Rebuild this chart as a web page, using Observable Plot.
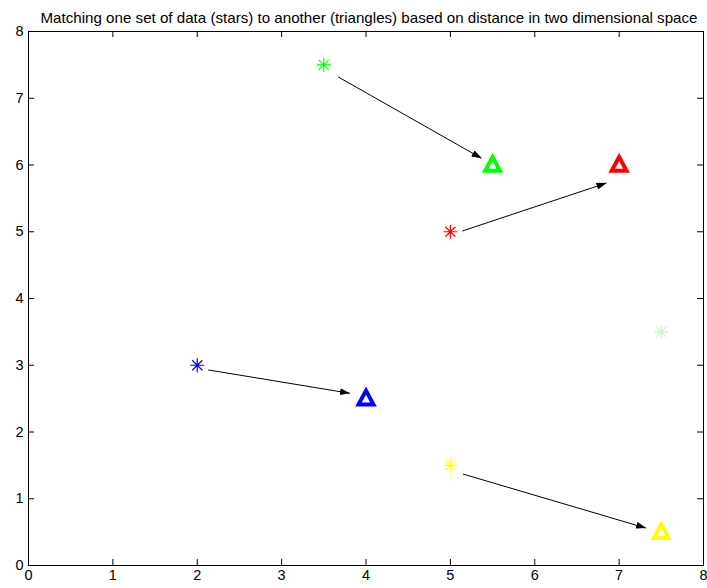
<!DOCTYPE html>
<html>
<head>
<meta charset="utf-8">
<script src="https://cdn.jsdelivr.net/npm/d3@7"></script>
<script src="https://cdn.jsdelivr.net/npm/@observablehq/plot@0.6"></script>
<style>
  html, body { margin: 0; padding: 0; background: #ffffff; }
  #chart { width: 707px; height: 588px; }
</style>
</head>
<body>
<div id="chart"></div>
<script>
// Stars: the points to be matched
const starX = [3.5, 5, 2, 5, 7.5];
const starY = [7.5, 5, 3, 1.5, 3.5];
const starColor = ["#00ff00", "#ff0000", "#0000ff", "#ffff00", "#c6f6c6"];

// Triangles: the targets
const triX = [5.5, 7, 4, 7.5];
const triY = [6, 6, 2.5, 0.5];
const triColor = ["#00ff00", "#ff0000", "#0000ff", "#ffff00"];

// Match arrows (star -> triangle), start and end points
const arrowX1 = [3.67, 5.14, 2.13, 5.15];
const arrowY1 = [7.32, 5.01, 2.93, 1.37];
const arrowX2 = [5.37, 6.85, 3.81, 7.32];
const arrowY2 = [6.10, 5.73, 2.58, 0.56];

const xTicks = [0, 1, 2, 3, 4, 5, 6, 7, 8];
const yTicks = [0, 1, 2, 3, 4, 5, 6, 7, 8];
const titleText = "Matching one set of data (stars) to another (triangles) based on distance in two dimensional space";

const stars = starX.map((x, i) => ({x, y: starY[i], c: starColor[i]}));
const tris = triX.map((x, i) => ({x, y: triY[i], c: triColor[i]}));
const arrows = arrowX1.map((x1, i) => ({x1, y1: arrowY1[i], x2: arrowX2[i], y2: arrowY2[i]}));

// Eight-armed asterisk marker
const asterisk8 = {
  draw(ctx, size) {
    const r = Math.sqrt(size / Math.PI);
    const d = r * 0.72;
    ctx.moveTo(-r, 0); ctx.lineTo(r, 0);
    ctx.moveTo(0, -r); ctx.lineTo(0, r);
    ctx.moveTo(-d, -d); ctx.lineTo(d, d);
    ctx.moveTo(-d, d); ctx.lineTo(d, -d);
  }
};

// Upward triangle marker
const triangleUp = {
  draw(ctx, size) {
    const r = Math.sqrt(size / Math.PI);
    ctx.moveTo(0, -r);
    ctx.lineTo(r * 0.93, r * 0.72);
    ctx.lineTo(-r * 0.93, r * 0.72);
    ctx.closePath();
  }
};

const W = 707, H = 588;
const mTop = 31, mBottom = 23, mLeft = 28, mRight = 4;
const frameW = W - mLeft - mRight, frameH = H - mTop - mBottom;
const tickLen = 6;

const plot = Plot.plot({
  width: W,
  height: H,
  marginTop: mTop,
  marginBottom: mBottom,
  marginLeft: mLeft,
  marginRight: mRight,
  style: {fontFamily: "'Liberation Sans', Arial, Helvetica, sans-serif", fontSize: "14px", background: "#ffffff", color: "#000000"},
  x: {domain: [0, 8]},
  y: {domain: [0, 8]},
  marks: [
    // inward ticks on all four sides
    Plot.tickX(xTicks, {x: d => d, stroke: "#000", insetTop: frameH - tickLen}),
    Plot.tickX(xTicks, {x: d => d, stroke: "#000", insetBottom: frameH - tickLen}),
    Plot.tickY(yTicks, {y: d => d, stroke: "#000", insetRight: frameW - tickLen}),
    Plot.tickY(yTicks, {y: d => d, stroke: "#000", insetLeft: frameW - tickLen}),
    Plot.axisX({ticks: xTicks, anchor: "bottom", tickSize: 0, tickPadding: 4, label: null, fontSize: 14.5}),
    Plot.axisY({ticks: yTicks, anchor: "left", tickSize: 0, tickPadding: 5, label: null, fontSize: 14.5}),
    Plot.frame({stroke: "#000", strokeWidth: 1}),
    Plot.link(arrows, {x1: "x1", y1: "y1", x2: "x2", y2: "y2", stroke: "#000", strokeWidth: 1}),
    Plot.dot(stars, {x: "x", y: "y", stroke: "c", symbol: asterisk8, r: 7, strokeWidth: 1.2}),
    Plot.dot(tris, {x: "x", y: "y", stroke: "c", symbol: triangleUp, r: 8, strokeWidth: 4, fill: "none"}),
    Plot.text([titleText], {text: d => d, frameAnchor: "top", dy: -19, dx: 3, fontSize: 15, fill: "#000"})
  ]
});

// Title spans the width of the plot box
plot.querySelectorAll("text").forEach(t => {
  if (t.textContent === titleText) {
    t.setAttribute("textLength", "657");
    t.setAttribute("lengthAdjust", "spacingAndGlyphs");
  }
});

// Filled arrowheads on the match links
const svgNS = "http://www.w3.org/2000/svg";
const defs = document.createElementNS(svgNS, "defs");
const marker = document.createElementNS(svgNS, "marker");
marker.setAttribute("id", "match-head");
marker.setAttribute("viewBox", "0 0 10 7");
marker.setAttribute("refX", "10");
marker.setAttribute("refY", "3.5");
marker.setAttribute("markerWidth", "10");
marker.setAttribute("markerHeight", "7");
marker.setAttribute("markerUnits", "userSpaceOnUse");
marker.setAttribute("orient", "auto");
const head = document.createElementNS(svgNS, "path");
head.setAttribute("d", "M0,0L10,3.5L0,7Z");
head.setAttribute("fill", "#000");
marker.appendChild(head);
defs.appendChild(marker);
plot.insertBefore(defs, plot.firstChild);
plot.querySelectorAll('g[aria-label="link"] path').forEach(p => p.setAttribute("marker-end", "url(#match-head)"));

document.getElementById("chart").appendChild(plot);
</script>
</body>
</html>
